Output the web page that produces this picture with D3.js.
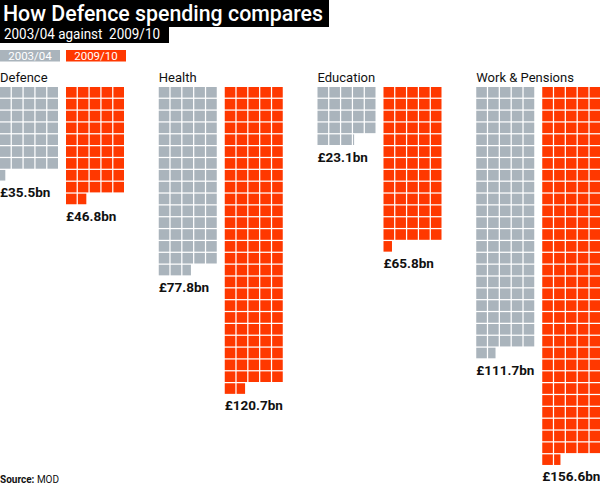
<!DOCTYPE html>
<html><head><meta charset="utf-8">
<script src="https://cdn.jsdelivr.net/npm/d3@7"></script>
<style>
body{margin:0;background:#fff;}
svg{display:block;font-family:Roboto, "Liberation Sans", sans-serif;}
</style></head>
<body><svg id="c" width="600" height="488"></svg>
<script>
const categories = ["Defence", "Health", "Education", "Work & Pensions"];
const seriesNames = ["2003/04", "2009/10"];
const values0304 = [35.5, 77.8, 23.1, 111.7];
const values0910 = [46.8, 120.7, 65.8, 156.6];
// squares as drawn in the reference (£1bn per square)
const squares0304 = [35.5, 77.8, 23.1, 111.7];
const squares0910 = [46.8, 126.8, 65.8, 156.6];
const colors = ["#aab4bc", "#ff3800"];

const svg = d3.select("#c");
const perRow = 5, pitch = 11.85, cell = 10.6, gridTop = 87;

const xGroup = d3.scaleBand().domain(categories).range([0, 635]).paddingInner(0);
const xSeries = d3.scaleOrdinal().domain(seriesNames).range([0, 66]);
const xCol = d3.scaleLinear().domain([0, 1]).range([0, pitch]);
const yRow = d3.scaleLinear().domain([0, 1]).range([gridTop, gridTop + pitch]);

// Title
svg.append("rect").attr("x",0).attr("y",0).attr("width",329).attr("height",27).attr("fill","#000");
svg.append("rect").attr("x",0).attr("y",26).attr("width",169).attr("height",17).attr("fill","#000");
svg.append("text").attr("x",3).attr("y",21).attr("fill","#fff").attr("font-size",22.5).attr("font-weight",500)
  .attr("textLength",320).attr("lengthAdjust","spacingAndGlyphs").text("How Defence spending compares");
svg.append("text").attr("x",4).attr("y",39).attr("fill","#fff").attr("font-size",14)
  .attr("textLength",156).attr("lengthAdjust","spacingAndGlyphs")
  .text("2003/04 against\u00a0 2009/10");

// Legend
seriesNames.forEach((s,i)=>{
  const x = xSeries(s);
  svg.append("rect").attr("x",x).attr("y",50).attr("width",60).attr("height",11.5).attr("fill",colors[i]);
  svg.append("text").attr("x",x+30).attr("y",59.5).attr("text-anchor","middle").attr("fill","#fff")
    .attr("font-size",11.5).text(s);
});

// Category labels
svg.selectAll("text.cat").data(categories).join("text").attr("class","cat")
  .attr("x",d=>xGroup(d)).attr("y",82).attr("font-size",13).attr("fill","#111").text(d=>d);

const series = [
  {name:seriesNames[0], squares:squares0304, values:values0304, color:colors[0]},
  {name:seriesNames[1], squares:squares0910, values:values0910, color:colors[1]}
];

series.forEach(s=>{
  categories.forEach((c,ci)=>{
    const v = s.squares[ci];
    const full = Math.floor(v);
    const frac = +(v - full).toFixed(2);
    const cells = d3.range(full).map(i=>({i, w:1}));
    if (frac > 0) cells.push({i:full, w:frac});
    const x0 = xGroup(c) + xSeries(s.name);
    const g = svg.append("g");
    g.selectAll("rect").data(cells).join("rect")
      .attr("x", d=>x0 + xCol(d.i % perRow))
      .attr("y", d=>yRow(Math.floor(d.i / perRow)))
      .attr("width", d=>cell * d.w)
      .attr("height", cell)
      .attr("fill", s.color);
    const rows = Math.ceil(v / perRow);
    const bottom = yRow(rows) - (pitch - cell);
    svg.append("text").attr("x", x0).attr("y", bottom + 16.5)
      .attr("font-size",13.5).attr("font-weight",700).attr("fill","#111")
      .text("£" + s.values[ci].toFixed(1) + "bn");
  });
});

// Source
const src = svg.append("text").attr("x",0).attr("y",483).attr("font-size",10).attr("fill","#111");
src.append("tspan").attr("font-weight",700).text("Source:");
src.append("tspan").text(" MOD");
</script></body></html>
